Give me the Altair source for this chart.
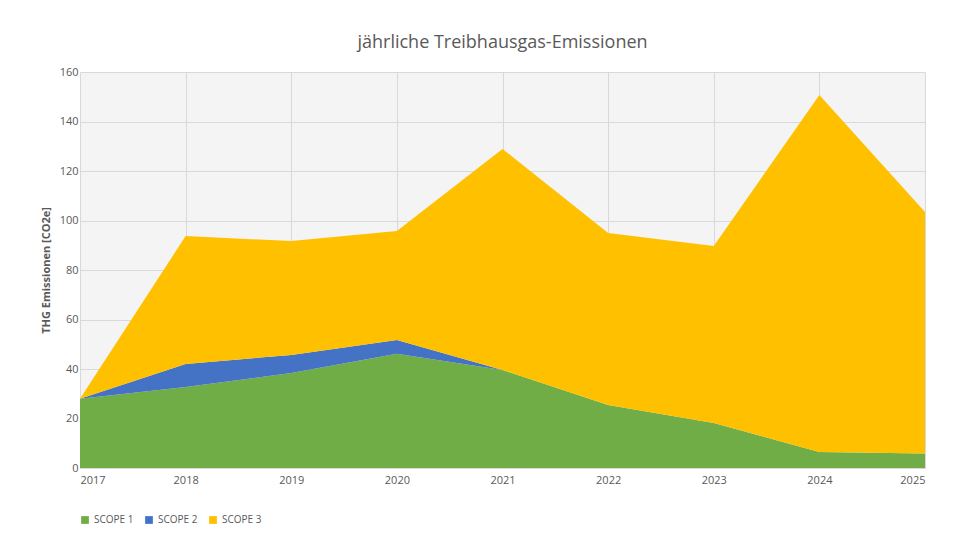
import altair as alt
import pandas as pd

years = [2017, 2018, 2019, 2020, 2021, 2022, 2023, 2024, 2025]
scope1 = [28, 32.7, 38.4, 46.2, 39.6, 25.5, 18.2, 6.5, 5.9]
scope2 = [0, 9.3, 7.3, 5.5, 0, 0, 0, 0, 0]
total = [28, 93.7, 91.7, 95.8, 128.9, 95, 89.7, 150.7, 103.4]
scope3 = [round(t - a - b, 1) for t, a, b in zip(total, scope1, scope2)]

rows = []
for i, y in enumerate(years):
    rows.append({"Jahr": y, "Serie": "SCOPE 1", "Wert": scope1[i], "o": 1})
    rows.append({"Jahr": y, "Serie": "SCOPE 2", "Wert": scope2[i], "o": 2})
    rows.append({"Jahr": y, "Serie": "SCOPE 3", "Wert": scope3[i], "o": 3})
df = pd.DataFrame(rows)

chart = alt.Chart(df).mark_area(opacity=1).encode(
    x=alt.X("Jahr:Q", scale=alt.Scale(domain=[2017, 2025], nice=False),
            axis=alt.Axis(title=None, format="d", values=years, grid=True, gridColor="#d9d9d9",
                          labelColor="#595959", labelFontSize=11, domainColor="#d9d9d9", ticks=False,
                          labelPadding=6)),
    y=alt.Y("Wert:Q", stack="zero", scale=alt.Scale(domain=[0, 160], nice=False),
            axis=alt.Axis(title="THG Emissionen [CO2e]", titleFontSize=11, titleFontWeight="bold",
                          titleColor="#595959", tickCount=16, values=list(range(0, 161, 10)),
                          labelColor="#595959", labelFontSize=11, gridColor="#d9d9d9",
                          domain=False, ticks=False, titlePadding=8)),
    color=alt.Color("Serie:N", scale=alt.Scale(domain=["SCOPE 1", "SCOPE 2", "SCOPE 3"],
                                               range=["#70AD47", "#4472C4", "#FFC000"]),
                    legend=alt.Legend(title=None, orient="bottom", direction="horizontal",
                                      symbolType="square", labelColor="#595959", labelFontSize=10,
                                      symbolSize=60, offset=30)),
    order=alt.Order("o:Q"),
).properties(
    width=845, height=396,
    title=alt.TitleParams("jährliche Treibhausgas-Emissionen", fontSize=18, color="#595959",
                          font="Open Sans", fontWeight="normal", offset=14),
    autosize=alt.AutoSizeParams(type="none"),
    padding={"left": 72, "top": 64, "right": 27, "bottom": 68},
).configure(font="Open Sans").configure_view(fill="#f4f4f4", stroke=None)

chart.save("out.html", embed_options={"renderer": "svg", "actions": False})
